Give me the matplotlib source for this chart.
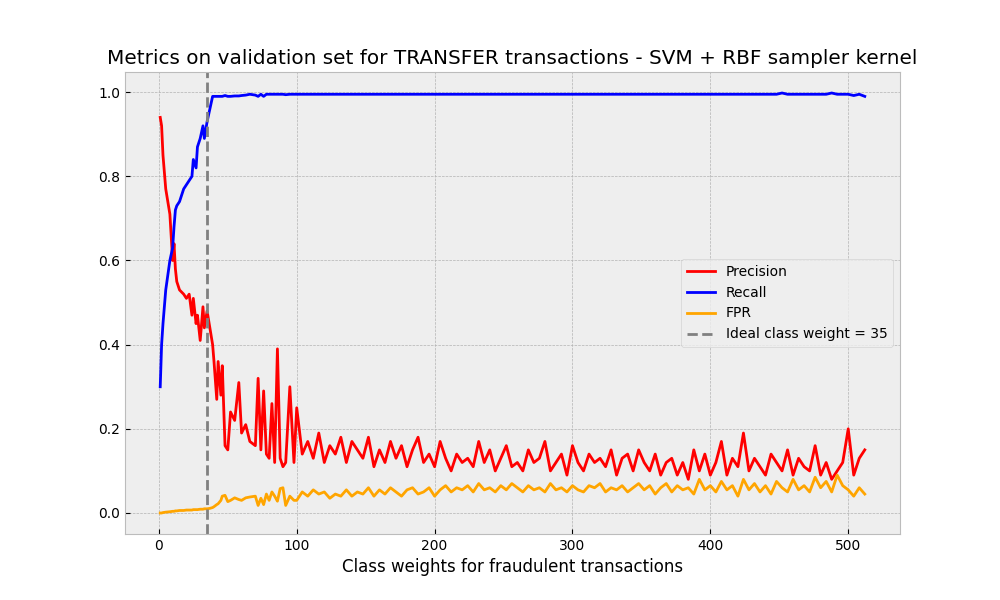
import numpy as np
import matplotlib
matplotlib.use("Agg")
import matplotlib.pyplot as plt

# early part, read point by point
x_early = [1, 2, 3, 5, 8, 10, 11, 12, 13, 15, 18, 20, 22, 24, 25, 27, 28, 30, 32, 33, 35, 37,
           39, 40, 42, 43, 45, 46, 48, 50, 52, 55, 58, 60, 63, 66, 70, 72, 74, 76, 78, 80, 82,
           84, 86, 88, 90, 92, 95, 98]
prec_early = [0.94, 0.92, 0.85, 0.77, 0.71, 0.60, 0.64, 0.58, 0.55, 0.53, 0.52, 0.51, 0.52, 0.47,
              0.51, 0.45, 0.47, 0.41, 0.49, 0.44, 0.48, 0.44, 0.40, 0.36, 0.27, 0.36, 0.28, 0.35,
              0.16, 0.15, 0.24, 0.22, 0.31, 0.19, 0.21, 0.17, 0.16, 0.32, 0.15, 0.29, 0.14, 0.13,
              0.26, 0.12, 0.39, 0.13, 0.11, 0.12, 0.30, 0.12]
rec_early = [0.30, 0.40, 0.45, 0.53, 0.60, 0.63, 0.68, 0.72, 0.73, 0.74, 0.77, 0.78, 0.79, 0.80,
             0.84, 0.82, 0.87, 0.89, 0.92, 0.89, 0.93, 0.96, 0.99, 0.99, 0.99, 0.99, 0.99, 0.99,
             0.992, 0.99, 0.99, 0.991, 0.991, 0.992, 0.993, 0.995, 0.993, 0.99, 0.995, 0.99,
             0.995, 0.995, 0.995, 0.995, 0.995, 0.995, 0.995, 0.994, 0.995, 0.995]
fpr_early = [0.0, 0.0, 0.001, 0.002, 0.003, 0.004, 0.004, 0.005, 0.005, 0.006, 0.006, 0.007,
             0.007, 0.007, 0.008, 0.008, 0.008, 0.009, 0.009, 0.010, 0.010, 0.011, 0.013, 0.015,
             0.020, 0.022, 0.030, 0.040, 0.042, 0.027, 0.030, 0.036, 0.032, 0.030, 0.036, 0.038,
             0.040, 0.018, 0.035, 0.020, 0.045, 0.030, 0.050, 0.040, 0.028, 0.058, 0.060, 0.018,
             0.040, 0.030]

# tail, step 4 from 100 to 512
x_tail = list(range(100, 513, 4))
prec_tail = [0.25, 0.14, 0.17, 0.13, 0.19, 0.12, 0.16, 0.14, 0.18, 0.12, 0.17, 0.15, 0.13, 0.18,
             0.11, 0.15, 0.12, 0.17, 0.13, 0.16, 0.11, 0.15, 0.18, 0.12, 0.14, 0.11, 0.17, 0.13,
             0.10, 0.14, 0.12, 0.13, 0.11, 0.17, 0.12, 0.15, 0.10, 0.13, 0.16, 0.11, 0.12, 0.10,
             0.15, 0.12, 0.13, 0.17, 0.10, 0.12, 0.14, 0.09, 0.16, 0.12, 0.10, 0.14, 0.12, 0.13,
             0.11, 0.15, 0.09, 0.13, 0.14, 0.10, 0.15, 0.12, 0.10, 0.14, 0.09, 0.12, 0.13, 0.09,
             0.12, 0.08, 0.15, 0.10, 0.14, 0.09, 0.12, 0.17, 0.09, 0.13, 0.11, 0.19, 0.10, 0.13,
             0.11, 0.09, 0.14, 0.12, 0.10, 0.15, 0.09, 0.13, 0.11, 0.10, 0.16, 0.09, 0.12, 0.08,
             0.10, 0.12, 0.20, 0.09, 0.13, 0.15]
rec_tail = [0.995] * 103 + [0.99]
rec_tail[88] = 0.998
rec_tail[97] = 0.998
rec_tail[101] = 0.992
fpr_tail = [0.030, 0.050, 0.040, 0.055, 0.045, 0.050, 0.035, 0.045, 0.040, 0.055, 0.040, 0.050,
            0.045, 0.060, 0.040, 0.055, 0.045, 0.060, 0.050, 0.040, 0.055, 0.060, 0.045, 0.050,
            0.060, 0.040, 0.055, 0.065, 0.050, 0.060, 0.055, 0.065, 0.050, 0.070, 0.055, 0.060,
            0.050, 0.065, 0.055, 0.070, 0.060, 0.050, 0.065, 0.055, 0.060, 0.050, 0.070, 0.055,
            0.060, 0.050, 0.065, 0.055, 0.050, 0.065, 0.060, 0.070, 0.050, 0.060, 0.055, 0.065,
            0.050, 0.060, 0.070, 0.055, 0.065, 0.045, 0.060, 0.070, 0.050, 0.065, 0.055, 0.060,
            0.045, 0.080, 0.055, 0.065, 0.050, 0.075, 0.055, 0.065, 0.040, 0.080, 0.055, 0.070,
            0.050, 0.065, 0.045, 0.075, 0.060, 0.050, 0.080, 0.055, 0.065, 0.050, 0.085, 0.060,
            0.075, 0.050, 0.090, 0.065, 0.055, 0.040, 0.060, 0.045]

x = x_early + x_tail
precision = prec_early + prec_tail
recall = rec_early + rec_tail
fpr = fpr_early + fpr_tail
ideal_weight = 35

plt.style.use("bmh")
fig, ax = plt.subplots(figsize=(10, 6), dpi=100)
ax.plot(x, precision, color="red", label="Precision")
ax.plot(x, recall, color="blue", label="Recall")
ax.plot(x, fpr, color="orange", label="FPR")
ax.axvline(ideal_weight, color="gray", linestyle="--", label=f"Ideal class weight = {ideal_weight}")
ax.set_title("Metrics on validation set for TRANSFER transactions - SVM + RBF sampler kernel")
ax.set_xlabel("Class weights for fraudulent transactions")
ax.legend(loc="center right")
fig.savefig("out.png")
